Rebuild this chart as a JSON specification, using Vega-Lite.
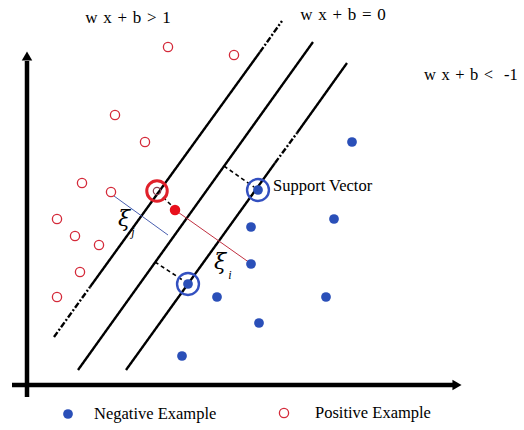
{
  "$schema": "https://vega.github.io/schema/vega-lite/v6.json",
  "width": 524,
  "height": 430,
  "padding": 0,
  "autosize": {"type": "fit", "contains": "padding"},
  "background": "white",
  "config": {"view": {"stroke": null}},
  "datasets": {
    "hyperplanes": [
      {"plane": "plus", "part": "a", "kind": "dashdot", "x": 2.7, "y": 4.8},
      {"plane": "plus", "part": "a", "kind": "dashdot", "x": 6.3, "y": 9.8},
      {"plane": "plus", "part": "b", "kind": "solid", "x": 6.3, "y": 9.8},
      {"plane": "plus", "part": "b", "kind": "solid", "x": 23.3, "y": 33.3},
      {"plane": "plus", "part": "c", "kind": "dashdot", "x": 23.3, "y": 33.3},
      {"plane": "plus", "part": "c", "kind": "dashdot", "x": 25.5, "y": 36.4},
      {"plane": "zero", "part": "a", "kind": "solid", "x": 5.1, "y": 1.5},
      {"plane": "zero", "part": "a", "kind": "solid", "x": 28.6, "y": 34.3},
      {"plane": "minus", "part": "a", "kind": "solid", "x": 9.9, "y": 1.5},
      {"plane": "minus", "part": "a", "kind": "solid", "x": 24.8, "y": 22.2},
      {"plane": "minus", "part": "b", "kind": "dashdot", "x": 24.8, "y": 22.2},
      {"plane": "minus", "part": "b", "kind": "dashdot", "x": 27.0, "y": 25.2},
      {"plane": "minus", "part": "c", "kind": "solid", "x": 27.0, "y": 25.2},
      {"plane": "minus", "part": "c", "kind": "solid", "x": 32.0, "y": 32.2}
    ],
    "margins": [
      {"x": 19.7, "y": 21.9, "x2": 22.7, "y2": 19.8},
      {"x": 12.8, "y": 12.3, "x2": 15.7, "y2": 10.4},
      {"x": 13.6, "y": 18.8, "x2": 14.4, "y2": 18.0}
    ],
    "slacks": [
      {"cls": "positive", "x": 8.7, "y": 18.9, "x2": 14.1, "y2": 15.0},
      {"cls": "negative", "x": 14.8, "y": 17.5, "x2": 22.3, "y2": 12.2}
    ],
    "axes": [
      {"x": 0, "y": -1.2, "x2": 0, "y2": 32.4},
      {"x": -1.5, "y": 0, "x2": 42.6, "y2": 0}
    ],
    "arrows": [
      {"dir": "up", "x": 0, "y": 32.9},
      {"dir": "right", "x": 43.0, "y": 0}
    ],
    "positive": [
      {"x": 14.1, "y": 33.8}, {"x": 20.7, "y": 33.0}, {"x": 8.8, "y": 27.0},
      {"x": 11.8, "y": 24.3}, {"x": 5.5, "y": 20.2}, {"x": 8.4, "y": 19.3},
      {"x": 3.0, "y": 16.6}, {"x": 4.8, "y": 14.9}, {"x": 7.2, "y": 14.0},
      {"x": 5.3, "y": 11.3}, {"x": 3.0, "y": 8.8},
      {"x": 25.7, "y": -2.8}
    ],
    "negative": [
      {"x": 32.5, "y": 24.3}, {"x": 23.1, "y": 19.5}, {"x": 22.4, "y": 15.8},
      {"x": 30.7, "y": 16.6}, {"x": 22.4, "y": 12.1}, {"x": 16.1, "y": 10.1},
      {"x": 19.0, "y": 8.8}, {"x": 29.9, "y": 8.8}, {"x": 23.2, "y": 6.2},
      {"x": 15.5, "y": 2.9},
      {"x": 4.1, "y": -2.9}
    ],
    "supportNeg": [{"x": 23.1, "y": 19.5}, {"x": 16.1, "y": 10.1}],
    "supportPos": [{"x": 13.0, "y": 19.4}],
    "outlier": [{"x": 14.8, "y": 17.5}],
    "equations": [
      {"text": "w\u2004x\u2004+\u2004b\u2004>\u20041", "x": 10.1, "y": 36.7},
      {"text": "w\u2004x\u2004+\u2004b\u2004=\u20040", "x": 31.6, "y": 37.0}
    ],
    "notes": [
      {"text": "w\u2004x\u2004+\u2004b\u2004<\u2004\u2004-1", "x": 39.7, "y": 31.0},
      {"text": "Support Vector", "x": 24.6, "y": 19.9},
      {"text": "Negative Example", "x": 6.7, "y": -2.9},
      {"text": "Positive Example", "x": 28.8, "y": -2.8}
    ],
    "xi": [{"x": 9.7, "y": 16.6}, {"x": 19.3, "y": 12.3}],
    "xiSub": [{"text": "j", "x": 10.6, "y": 15.3}, {"text": "i", "x": 20.3, "y": 11.0}]
  },
  "encoding": {
    "x": {"field": "x", "type": "quantitative", "scale": {"domain": [-2.7, 49.7], "nice": false, "zero": false}, "axis": null},
    "y": {"field": "y", "type": "quantitative", "scale": {"domain": [-4.5, 38.5], "nice": false, "zero": false}, "axis": null}
  },
  "layer": [
    {
      "data": {"name": "hyperplanes"},
      "mark": {"type": "line", "color": "black", "strokeWidth": 2.4},
      "encoding": {
        "detail": [{"field": "plane"}, {"field": "part"}],
        "order": {"field": "y", "type": "quantitative"},
        "strokeDash": {"field": "kind", "type": "nominal", "scale": {"domain": ["solid", "dashdot"], "range": [[1, 0], [6, 2, 2, 2]]}, "legend": null}
      }
    },
    {
      "data": {"name": "margins"},
      "mark": {"type": "rule", "color": "black", "strokeWidth": 1.6, "strokeDash": [4, 3]},
      "encoding": {"x2": {"field": "x2"}, "y2": {"field": "y2"}}
    },
    {
      "data": {"name": "slacks"},
      "mark": {"type": "rule", "strokeWidth": 1},
      "encoding": {
        "x2": {"field": "x2"}, "y2": {"field": "y2"},
        "color": {"field": "cls", "type": "nominal", "scale": {"domain": ["positive", "negative"], "range": ["#4a5fb0", "#c03040"]}, "legend": null}
      }
    },
    {
      "data": {"name": "axes"},
      "mark": {"type": "rule", "color": "black", "strokeWidth": 4.5},
      "encoding": {"x2": {"field": "x2"}, "y2": {"field": "y2"}}
    },
    {
      "data": {"name": "arrows"},
      "mark": {"type": "point", "filled": true, "color": "black", "opacity": 1, "size": 110},
      "encoding": {
        "shape": {"field": "dir", "type": "nominal", "scale": {"domain": ["up", "right"], "range": ["triangle-up", "triangle-right"]}, "legend": null}
      }
    },
    {
      "data": {"name": "positive"},
      "mark": {"type": "point", "shape": "circle", "filled": false, "color": "#d42a3a", "strokeWidth": 1.3, "opacity": 1, "size": 85}
    },
    {
      "data": {"name": "negative"},
      "mark": {"type": "point", "shape": "circle", "filled": true, "color": "#2a4fb8", "opacity": 1, "size": 95}
    },
    {
      "data": {"name": "supportNeg"},
      "mark": {"type": "point", "shape": "circle", "filled": false, "color": "#3350c0", "strokeWidth": 2.4, "opacity": 1, "size": 480}
    },
    {
      "data": {"name": "supportPos"},
      "mark": {"type": "point", "shape": "circle", "filled": false, "color": "#e0202a", "strokeWidth": 3, "opacity": 1, "size": 420}
    },
    {
      "data": {"name": "supportPos"},
      "mark": {"type": "point", "shape": "circle", "filled": false, "color": "#8a4050", "strokeWidth": 1.2, "opacity": 1, "size": 55}
    },
    {
      "data": {"name": "outlier"},
      "mark": {"type": "point", "shape": "circle", "filled": true, "color": "#e8101c", "opacity": 1, "size": 110}
    },
    {
      "data": {"name": "equations"},
      "mark": {"type": "text", "font": "Liberation Serif", "fontSize": 17, "color": "black", "baseline": "middle", "align": "center"},
      "encoding": {"text": {"field": "text"}}
    },
    {
      "data": {"name": "notes"},
      "mark": {"type": "text", "font": "Liberation Serif", "fontSize": 16.5, "color": "black", "baseline": "middle", "align": "left"},
      "encoding": {"text": {"field": "text"}}
    },
    {
      "data": {"name": "xi"},
      "mark": {"type": "text", "text": "ξ", "font": "DejaVu Serif", "fontStyle": "italic", "fontSize": 22, "color": "black", "baseline": "middle", "align": "center"}
    },
    {
      "data": {"name": "xiSub"},
      "mark": {"type": "text", "font": "Liberation Serif", "fontStyle": "italic", "fontSize": 12, "color": "black", "baseline": "middle", "align": "center"},
      "encoding": {"text": {"field": "text"}}
    }
  ]
}
